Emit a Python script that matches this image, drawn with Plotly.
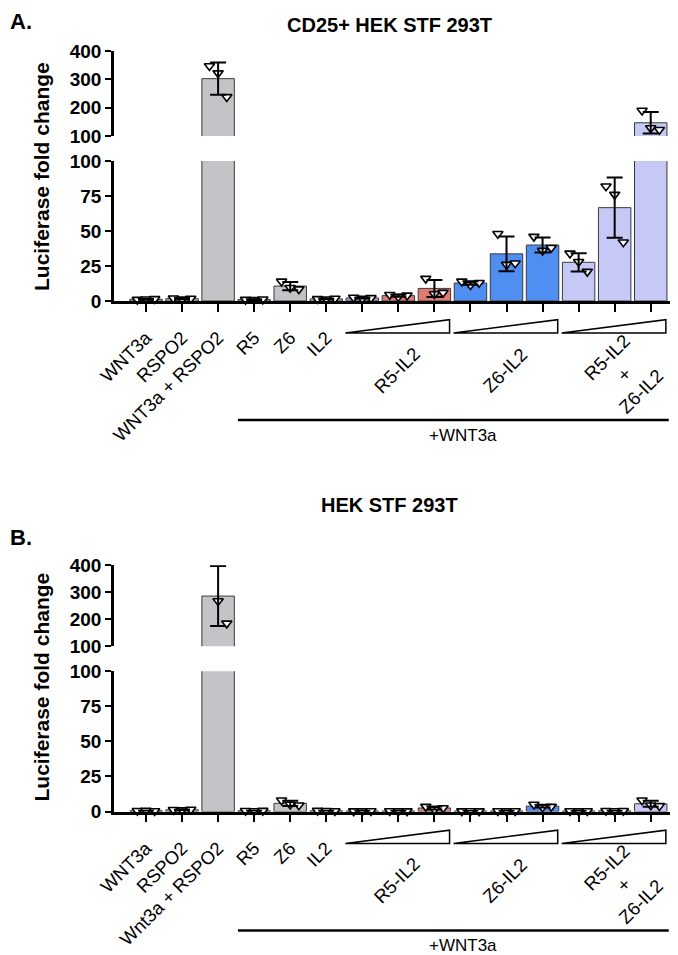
import plotly.graph_objects as go
import numpy as np

# ---------------- data ----------------
labels_A = ["WNT3a", "RSPO2", "WNT3a + RSPO2", "R5", "Z6", "IL2"]
labels_B = ["WNT3a", "RSPO2", "Wnt3a + RSPO2", "R5", "Z6", "IL2"]

# replicate values (3 per condition), 15 conditions
A_rep1 = [1.0, 2.0, 347, 1.0, 14.0, 1.5, 2.5, 4.5, 16.0, 14.0, 48, 46, 34, 82, 190]
A_rep2 = [1.2, 1.2, 322, 0.8, 9.5, 1.2, 1.8, 3.0, 5.0, 11.5, 26, 36, 28, 76, 128]
A_rep3 = [1.5, 1.8, 238, 1.2, 8.5, 1.8, 2.2, 4.0, 6.0, 13.0, 27, 38, 21, 42, 122]

B_rep1 = [0.5, 1.2, 405, 0.5, 8.0, 0.6, 0.3, 0.4, 3.5, 0.3, 0.4, 5.0, 0.4, 0.5, 8.0]
B_rep2 = [0.6, 1.0, 268, 0.4, 5.0, 0.5, 0.3, 0.3, 1.5, 0.4, 0.3, 3.0, 0.3, 0.4, 4.5]
B_rep3 = [0.4, 1.4, 185, 0.6, 4.5, 0.4, 0.4, 0.3, 2.5, 0.3, 0.4, 3.5, 0.4, 0.5, 4.0]

bar_colors = ["#c4c4c8"] * 6 + ["#b3a0d6", "#e07b72", "#e07b72",
                                 "#4f8ff2", "#4f8ff2", "#4f8ff2",
                                 "#c6c9f6", "#c6c9f6", "#c6c9f6"]
groups = [("R5-IL2", 6, 8), ("Z6-IL2", 9, 11), ("R5-IL2<br>+<br>Z6-IL2", 12, 14)]
wnt_start, wnt_end = 3, 14

lower_ticks = [0, 25, 50, 75, 100]
upper_ticks = [100, 200, 300, 400]
jitter = [-0.24, 0.0, 0.24]

# ---------------- layout helpers ----------------
W, H = 678, 955
FONT = "Arial, Liberation Sans, sans-serif"


def py(p):
    return 1 - p / H


def px(p):
    return p / W


n = 15
xs = np.arange(n)
x_left = -0.888
x_right = 14.84

fig = go.Figure()

panels = [
    dict(reps=(A_rep1, A_rep2, A_rep3), xa="x", ylo="y", yhi="y2", labels=labels_A,
         lo=(293.0, 153.0), hi=(128.0, 43.0), title="CD25+ HEK STF 293T", title_y=17,
         letter="A.", letter_y=13, shift=0),
    dict(reps=(B_rep1, B_rep2, B_rep3), xa="x2", ylo="y3", yhi="y4", labels=labels_B,
         lo=(803.5, 663.3), hi=(638.3, 557.3), title="HEK STF 293T", title_y=497,
         letter="B.", letter_y=529, shift=510.5),
]

for pnl in panels:
    reps = np.array(pnl["reps"], dtype=float)
    means = reps.mean(axis=0)
    sds = reps.std(axis=0, ddof=1)
    for ya in (pnl["ylo"], pnl["yhi"]):
        fig.add_trace(go.Bar(x=xs, y=means, xaxis=pnl["xa"], yaxis=ya, width=0.9,
                             marker=dict(color=bar_colors, line=dict(color="#3a3a3a", width=1)),
                             showlegend=False, hoverinfo="skip"))
    # points
    for r in range(3):
        vals = reps[r]
        xr = xs + jitter[r]
        lo_mask = vals <= 100
        for mask, ya in ((lo_mask, pnl["ylo"]), (~lo_mask, pnl["yhi"])):
            if mask.any():
                fig.add_trace(go.Scatter(x=xr[mask], y=vals[mask], xaxis=pnl["xa"], yaxis=ya,
                                         mode="markers", cliponaxis=False,
                                         marker=dict(symbol="triangle-down", size=9, color="white",
                                                     line=dict(color="black", width=1.6)),
                                         showlegend=False, hoverinfo="skip"))
    # error bars
    lo_mask = means <= 100
    for mask, ya in ((lo_mask, pnl["ylo"]), (~lo_mask, pnl["yhi"])):
        fig.add_trace(go.Scatter(x=xs[mask], y=means[mask], xaxis=pnl["xa"], yaxis=ya,
                                 mode="markers", cliponaxis=False,
                                 marker=dict(size=1, opacity=0),
                                 error_y=dict(type="data", array=sds[mask], visible=True,
                                              color="black", thickness=2, width=8),
                                 showlegend=False, hoverinfo="skip"))

axis_common = dict(showgrid=False, zeroline=False, showline=True, linecolor="black",
                   linewidth=2.5, ticks="outside", tickcolor="black", tickwidth=2,
                   automargin=False)

layout = dict(width=W, height=H, margin=dict(l=0, r=0, t=0, b=0, autoexpand=False),
              paper_bgcolor="white", plot_bgcolor="white", bargap=0.1,
              font=dict(family=FONT, color="black"))

xdomain = [px(106), px(673)]
ytickfont = dict(family=FONT, size=19, color="black", weight="bold")
xtickfont = dict(family=FONT, size=18.5, color="black")

for k, pnl in enumerate(panels):
    xname = "xaxis" if k == 0 else "xaxis2"
    ylo = "yaxis" if k == 0 else "yaxis3"
    yhi = "yaxis2" if k == 0 else "yaxis4"
    layout[xname] = dict(axis_common, domain=xdomain, range=[x_left, x_right], anchor=pnl["ylo"],
                         tickvals=list(xs), ticklen=8,
                         ticktext=pnl["labels"] + [""] * (n - len(pnl["labels"])),
                         tickangle=-45, tickfont=xtickfont, ticklabelstandoff=8)
    layout[ylo] = dict(axis_common, domain=[py(pnl["lo"][0]), py(pnl["lo"][1])], range=[0, 100],
                       anchor=pnl["xa"], tickvals=lower_ticks, ticklen=6, tickfont=ytickfont)
    layout[yhi] = dict(axis_common, domain=[py(pnl["hi"][0]), py(pnl["hi"][1])], range=[100, 400],
                       anchor=pnl["xa"], tickvals=upper_ticks, ticklen=6, tickfont=ytickfont)

fig.update_layout(**layout)

shapes = []
annotations = []
ann_base = dict(showarrow=False, xanchor="center", yanchor="middle")
for pnl in panels:
    s = pnl["shift"]
    xr = pnl["xa"]
    # ramps
    for name, a, b in groups:
        y_top, y_bot = py(311.7 + s), py(325.0 + s)
        x0, x1 = a - 0.47, b + 0.42
        shapes.append(dict(type="path", xref=xr, yref="paper",
                           path=f"M {x0} {y_bot} L {x1} {y_bot} L {x1} {y_top} Z",
                           line=dict(color="black", width=1.5), fillcolor="white"))
        annotations.append(dict(ann_base, text=name,
                                x=(a + b) / 2 + (0.25 if "+" in name else -0.05),
                                y=py((366 if "+" in name else 362) + s), xref=xr, yref="paper",
                                textangle=-45, align="center",
                                font=dict(family=FONT, size=18.5, color="black")))
    # +WNT3a bracket
    shapes.append(dict(type="line", xref=xr, yref="paper", x0=wnt_start - 0.45, x1=wnt_end + 0.5,
                       y0=py(412 + s), y1=py(412 + s), line=dict(color="black", width=2.5)))
    annotations.append(dict(ann_base, text="+WNT3a", x=(wnt_start + wnt_end) / 2 + 0.3,
                            y=py(427 + s), xref=xr, yref="paper", borderpad=0,
                            font=dict(family=FONT, size=17, color="black")))
    # titles
    annotations.append(dict(ann_base, text=pnl["title"], x=px(381), y=py(pnl["title_y"]),
                            xref="paper", yref="paper",
                            font=dict(family=FONT, size=20, color="black", weight="bold")))
    annotations.append(dict(ann_base, text=pnl["letter"], x=0.0, y=py(pnl["letter_y"]),
                            xref="paper", yref="paper", xanchor="left",
                            font=dict(family=FONT, size=22, color="black", weight="bold")))
    annotations.append(dict(ann_base, text="Luciferase fold change", x=px(33), y=py(169 + s),
                            xref="paper", yref="paper", textangle=-90,
                            font=dict(family=FONT, size=21, color="black", weight="bold")))

fig.update_layout(shapes=shapes, annotations=annotations)
fig.write_html("out.html")
